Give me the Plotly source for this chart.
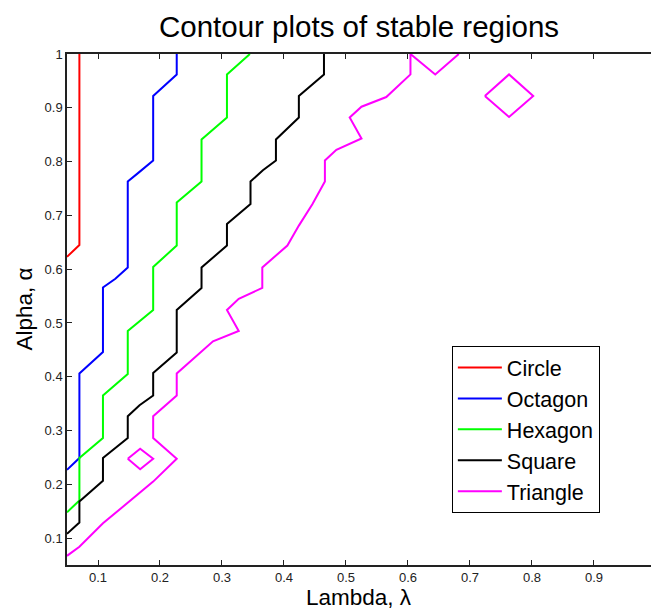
import plotly.graph_objects as go

# Contour vertices (Lambda, Alpha)
circle_x = [0.05, 0.07, 0.07]
circle_y = [0.623, 0.645, 1.0]

octagon_x = [0.05, 0.07, 0.07, 0.108, 0.108, 0.128, 0.148, 0.148, 0.165, 0.189, 0.189, 0.227, 0.227]
octagon_y = [0.227, 0.249, 0.406, 0.446, 0.566, 0.582, 0.603, 0.763, 0.779, 0.802, 0.922, 0.962, 1.0]

hexagon_x = [0.05, 0.07, 0.07, 0.108, 0.108, 0.148, 0.148, 0.189, 0.189, 0.227, 0.227, 0.267, 0.267, 0.308, 0.308, 0.345]
hexagon_y = [0.148, 0.170, 0.249, 0.286, 0.365, 0.405, 0.485, 0.524, 0.604, 0.644, 0.724, 0.763, 0.841, 0.882, 0.962, 1.0]

square_x = [0.05, 0.07, 0.07, 0.108, 0.108, 0.128, 0.148, 0.148, 0.167, 0.189, 0.189, 0.227, 0.227,
            0.267, 0.267, 0.308, 0.308, 0.346, 0.346, 0.366, 0.387, 0.387, 0.424, 0.424, 0.4645, 0.4645]
square_y = [0.108, 0.129, 0.168, 0.2065, 0.249, 0.267, 0.286, 0.3265, 0.347, 0.365, 0.407, 0.445, 0.524,
            0.565, 0.603, 0.644, 0.684, 0.721, 0.763, 0.784, 0.802, 0.841, 0.882, 0.922, 0.962, 1.0]

triangle_main_x = [0.05, 0.07, 0.108, 0.148, 0.189, 0.227, 0.189, 0.189, 0.227, 0.227, 0.2855, 0.327, 0.308,
                   0.327, 0.365, 0.365, 0.4055, 0.424, 0.446, 0.466, 0.466, 0.4845, 0.525, 0.506, 0.525,
                   0.565, 0.604, 0.604, 0.644, 0.682]
triangle_main_y = [0.067, 0.084, 0.1275, 0.166, 0.205, 0.2475, 0.286, 0.3265, 0.365, 0.406, 0.466, 0.485, 0.524,
                   0.545, 0.565, 0.603, 0.644, 0.681, 0.721, 0.763, 0.802, 0.822, 0.843, 0.882, 0.902,
                   0.920, 0.962, 1.0, 0.962, 1.0]
triangle_big_loop_x = [0.724, 0.763, 0.802, 0.763, 0.724]
triangle_big_loop_y = [0.922, 0.962, 0.922, 0.883, 0.922]
triangle_small_loop_x = [0.148, 0.168, 0.189, 0.168, 0.148]
triangle_small_loop_y = [0.2475, 0.266, 0.2475, 0.228, 0.2475]

x_ticks = [0.1, 0.2, 0.3, 0.4, 0.5, 0.6, 0.7, 0.8, 0.9]
x_tick_labels = ["0.1", "0.2", "0.3", "0.4", "0.5", "0.6", "0.7", "0.8", "0.9"]
y_ticks = [0.1, 0.2, 0.3, 0.4, 0.5, 0.6, 0.7, 0.8, 0.9, 1.0]
y_tick_labels = ["0.1", "0.2", "0.3", "0.4", "0.5", "0.6", "0.7", "0.8", "0.9", "1"]

FONT = "Liberation Sans, Arial, sans-serif"

triangle_x = triangle_main_x + [None] + triangle_big_loop_x + [None] + triangle_small_loop_x
triangle_y = triangle_main_y + [None] + triangle_big_loop_y + [None] + triangle_small_loop_y

series = [
    ("Circle", circle_x, circle_y, "#FF0000"),
    ("Octagon", octagon_x, octagon_y, "#0000FF"),
    ("Hexagon", hexagon_x, hexagon_y, "#00FF00"),
    ("Square", square_x, square_y, "#000000"),
    ("Triangle", triangle_x, triangle_y, "#FF00FF"),
]

fig = go.Figure()
for name, xs, ys, col in series:
    fig.add_trace(go.Scatter(x=xs, y=ys, mode="lines", name=name,
                             line=dict(color=col, width=2), connectgaps=False))

fig.update_layout(
    width=651, height=610,
    margin=dict(l=67, r=0, t=54, b=45),
    paper_bgcolor="white", plot_bgcolor="white",
    font=dict(family=FONT, color="black", size=12),
    title=dict(text="Contour plots of stable regions", x=0.5, xref="paper", xanchor="center",
               y=1 - 27 / 610, yref="container", yanchor="middle",
               font=dict(size=29.5, family=FONT, color="black")),
    showlegend=True,
    legend=dict(x=0.659, y=0.4286, xanchor="left", yanchor="top",
                bgcolor="white", bordercolor="black", borderwidth=1,
                font=dict(size=21.5, family=FONT, color="black"),
                tracegroupgap=0, itemwidth=44),
    xaxis=dict(range=[0.05, 0.992], tickmode="array", tickvals=x_ticks, ticktext=x_tick_labels,
               ticks="inside", ticklen=5, tickcolor="#222", showgrid=False, zeroline=False,
               showline=True, linecolor="#222", linewidth=1.5, mirror="ticks",
               tickfont=dict(size=13, family=FONT, color="#222")),
    yaxis=dict(range=[0.05, 1.0], tickmode="array", tickvals=y_ticks, ticktext=y_tick_labels,
               ticks="inside", ticklen=5, tickcolor="#222", showgrid=False, zeroline=False,
               showline=True, linecolor="#222", linewidth=1.5, mirror=False,
               tickfont=dict(size=13, family=FONT, color="#222")),
    annotations=[
        dict(text="Lambda, \u03bb", xref="paper", yref="paper", x=0.5, y=0,
             yshift=-32, xanchor="center", yanchor="middle", showarrow=False,
             font=dict(size=22.5, family=FONT, color="black")),
        dict(text="Alpha, \u03b1", xref="paper", yref="paper", x=0, y=0.5,
             xshift=-43, xanchor="center", yanchor="middle", textangle=-90, showarrow=False,
             font=dict(size=22.5, family=FONT, color="black")),
    ],
)

fig.write_html("out.html", config={"displayModeBar": False},
               post_script="document.body.style.margin='0';document.body.style.overflow='hidden';")
